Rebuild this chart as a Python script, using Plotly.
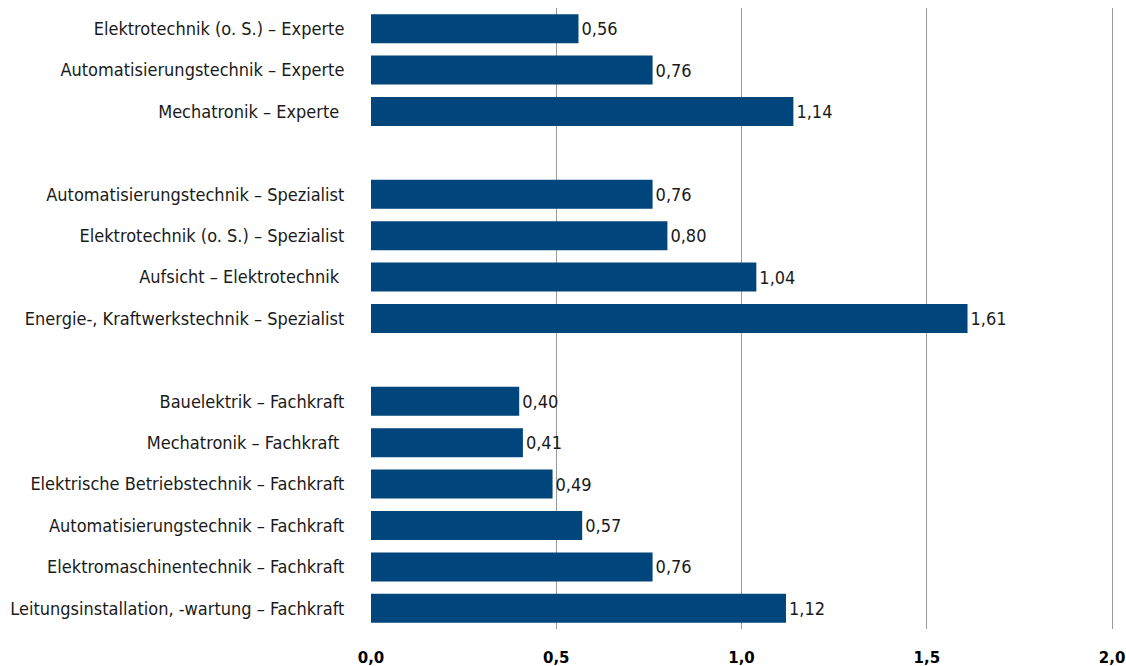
import plotly.graph_objects as go

experte_labels = ["Elektrotechnik (o. S.) – Experte", "Automatisierungstechnik – Experte",
                  "Mechatronik – Experte\u00a0"]
experte_values = [0.56, 0.76, 1.14]

spezialist_labels = ["Automatisierungstechnik – Spezialist", "Elektrotechnik (o. S.) – Spezialist",
                     "Aufsicht – Elektrotechnik\u00a0", "Energie-, Kraftwerkstechnik – Spezialist"]
spezialist_values = [0.76, 0.80, 1.04, 1.61]

fachkraft_labels = ["Bauelektrik – Fachkraft", "Mechatronik – Fachkraft\u00a0",
                    "Elektrische Betriebstechnik – Fachkraft", "Automatisierungstechnik – Fachkraft",
                    "Elektromaschinentechnik – Fachkraft", "Leitungsinstallation, -wartung – Fachkraft"]
fachkraft_values = [0.40, 0.41, 0.49, 0.57, 0.76, 1.12]

x_ticks = [0, 0.5, 1.0, 1.5, 2.0]

# leere Zeilen als Abstand zwischen den Gruppen
labels = experte_labels + [" "] + spezialist_labels + ["  "] + fachkraft_labels
values = experte_values + [None] + spezialist_values + [None] + fachkraft_values

label_font = "DejaVu Sans Condensed, Liberation Sans Narrow, sans-serif"

fig = go.Figure(go.Bar(
    x=values, y=labels, orientation="h",
    marker=dict(color="#00457B", line=dict(width=0)),
    texttemplate="%{x:.2f}", textposition="outside", cliponaxis=False,
    textfont=dict(family=label_font, size=18, color="#1a1a1a"),
))

fig.update_layout(
    width=1126, height=666,
    margin=dict(l=371, r=11, t=8, b=37),
    plot_bgcolor="white", paper_bgcolor="white",
    separators=",.",
    bargap=0.3,
    showlegend=False,
)
# Bereich etwas über 2,0 hinaus, sonst fehlt die letzte Gitterlinie am Rand
fig.update_xaxes(
    range=[0, 2.008], tickvals=x_ticks, tickformat=".1f", automargin=False,
    showgrid=True, gridcolor="#9a9a9a", gridwidth=1, zeroline=False,
    ticks="outside", ticklen=15, tickcolor="rgba(0,0,0,0)",
    tickfont=dict(family="DejaVu Sans", size=15, color="#000000", weight="bold"),
)
fig.update_yaxes(
    categoryorder="array", categoryarray=labels, autorange="reversed", automargin=False,
    showgrid=False, zeroline=False,
    ticks="outside", ticklen=22, tickcolor="rgba(0,0,0,0)",
    tickfont=dict(family=label_font, size=18, color="#1a1a1a"),
)

# Seitenrand des Browsers entfernen, damit die Grafik genau ins Fenster passt
fig.write_html("out.html", config={"displayModeBar": False},
               post_script="document.body.style.margin='0';document.body.style.overflow='hidden';")
